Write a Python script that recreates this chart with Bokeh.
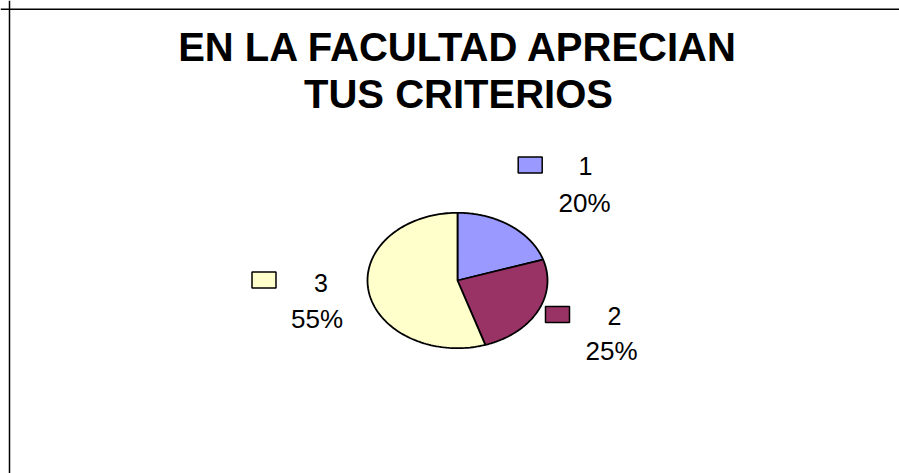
import numpy as np
from bokeh.plotting import figure
from bokeh.models import Range1d, Span
from bokeh.core.properties import value
from bokeh.embed import file_html
from bokeh.resources import INLINE

# ---- data ----
title_lines = ["EN LA FACULTAD APRECIAN", "TUS CRITERIOS"]
categories = ["1", "2", "3"]
values = [20, 25, 55]
colors = ["#9999FF", "#993366", "#FFFFCC"]

# ---- layout (pixel units of the frame, y downward) ----
W, H = 899, 473
cx, cy, rx, ry = 457.0, 280.0, 90.0, 67.7
legend_sq = [(529.7, 164.5), (557.0, 314.0), (263.5, 279.5)]
name_pos = [(585.0, 165.0), (614.0, 315.0), (320.5, 282.0)]
pct_pos = [(584.0, 202.0), (611.0, 350.0), (316.5, 318.0)]
title_pos = [(458.0, 46.0), (458.0, 93.0)]

p = figure(width=W, height=H, output_backend="svg", toolbar_location=None,
           x_range=Range1d(0, W), y_range=Range1d(H, 0),
           x_axis_type=None, y_axis_type=None, min_border=0,
           outline_line_color=None, background_fill_color="white",
           border_fill_color="white")
p.grid.visible = False

# pie slices (clockwise from 12 o'clock)
vals = np.array(values, dtype=float)
fr = vals / vals.sum()
ends = np.cumsum(fr) * 2 * np.pi
starts = ends - fr * 2 * np.pi
xs, ys = [], []
for a0, a1 in zip(starts, ends):
    t = np.linspace(a0, a1, 120)
    xs.append(list(np.concatenate([[cx], cx + rx * np.sin(t)])))
    ys.append(list(np.concatenate([[cy], cy - ry * np.cos(t)])))
p.patches(xs=xs, ys=ys, fill_color=colors, line_color="black", line_width=1.8)

# legend-like squares and labels
p.rect(x=[q[0] for q in legend_sq], y=[q[1] for q in legend_sq], width=24, height=16,
       fill_color=colors, line_color="black", line_width=1.5)
p.text(x=[q[0] for q in name_pos], y=[q[1] for q in name_pos], text=categories,
       text_font=value("Liberation Sans"), text_font_size="25px", text_color="black",
       text_align="center", text_baseline="alphabetic")
pct_text = [f"{v / vals.sum() * 100:.0f}%" for v in vals]
p.text(x=[q[0] for q in pct_pos], y=[q[1] for q in pct_pos], text=pct_text,
       text_font=value("Liberation Sans"), text_font_size="26px", text_color="black",
       text_align="center", text_baseline="alphabetic")

# title
p.text(x=[q[0] for q in title_pos], y=[q[1] for q in title_pos], text=title_lines,
       text_font=value("Liberation Sans"), text_font_style="bold",
       text_font_size="40px", text_color="black",
       text_align="center", text_baseline="alphabetic")

# top and left border of the chart area
p.add_layout(Span(location=8.75, dimension="width", line_color="black", line_width=1.5))
p.add_layout(Span(location=9.0, dimension="height", line_color="black", line_width=1.5))

open("out.html", "w").write(file_html(p, INLINE))
